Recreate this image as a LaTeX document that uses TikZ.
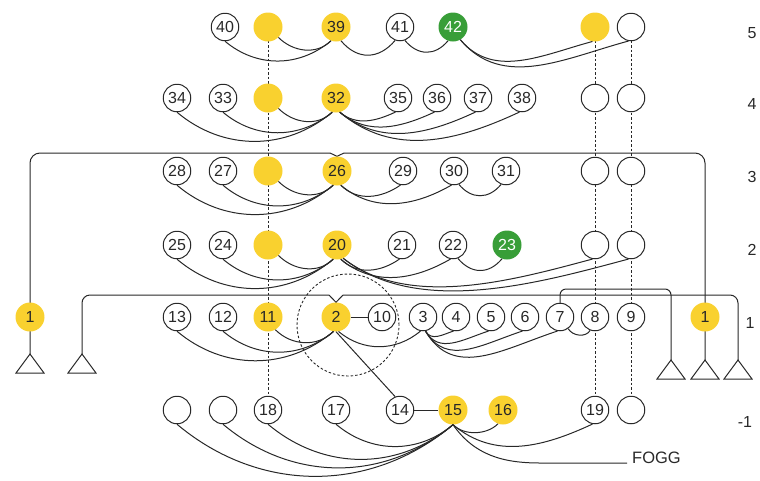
\documentclass[tikz,border=0pt]{standalone}
\usepackage{fontspec}
\setmainfont{Liberation Sans}
\usetikzlibrary{backgrounds}
\definecolor{ylw}{RGB}{249,209,47}
\definecolor{grn}{RGB}{56,158,56}
\definecolor{ink}{RGB}{40,40,40}
\begin{document}
\begin{tikzpicture}[x=1pt,y=1pt,
  every node/.style={font=\fontsize{16}{18}\selectfont, text=ink},
  wn/.style={circle, draw=ink, line width=1pt, fill=white, minimum size=27.5pt, inner sep=0pt},
  yn/.style={circle, fill=ylw, minimum size=29pt, inner sep=0pt},
  gn/.style={circle, fill=grn, minimum size=29pt, inner sep=0pt, text=white},
  con/.style={draw=ink, line width=1pt},
  dsh/.style={draw=ink, line width=0.9pt, dash pattern=on 2.5pt off 2pt},
]
\useasboundingbox (0,0) rectangle (760,-480);
% Row 5
\node[wn] (n40) at (225,-27) {40};
\node[yn] (y5) at (268,-27) {};
\node[yn] (n39) at (336,-27) {39};
\node[wn] (n41) at (400,-27) {41};
\node[gn] (n42) at (453,-27) {42};
\node[yn] (y5r) at (595,-27) {};
\node[wn] (e5) at (631,-27) {};
% Row 4
\node[wn] (n34) at (177,-98) {34};
\node[wn] (n33) at (223,-98) {33};
\node[yn] (y4) at (268,-98) {};
\node[yn] (n32) at (336,-98) {32};
\node[wn] (n35) at (398,-98) {35};
\node[wn] (n36) at (437,-98) {36};
\node[wn] (n37) at (478,-98) {37};
\node[wn] (n38) at (522,-98) {38};
\node[wn] (e4a) at (595,-98) {};
\node[wn] (e4b) at (631,-98) {};
% Row 3
\node[wn] (n28) at (177,-171) {28};
\node[wn] (n27) at (223,-171) {27};
\node[yn] (y3) at (268,-171) {};
\node[yn] (n26) at (337,-171) {26};
\node[wn] (n29) at (403,-171) {29};
\node[wn] (n30) at (454,-171) {30};
\node[wn] (n31) at (506,-171) {31};
\node[wn] (e3a) at (595,-171) {};
\node[wn] (e3b) at (631,-171) {};
% Row 2
\node[wn] (n25) at (177,-245) {25};
\node[wn] (n24) at (223,-245) {24};
\node[yn] (y2) at (268,-245) {};
\node[yn] (n20) at (337,-245) {20};
\node[wn] (n21) at (402,-245) {21};
\node[wn] (n22) at (453,-245) {22};
\node[gn] (n23) at (507,-245) {23};
\node[wn] (e2a) at (595,-245) {};
\node[wn] (e2b) at (631,-245) {};
% Row 1
\node[yn] (L1) at (30,-317) {1};
\node[wn] (n13) at (177,-317) {13};
\node[wn] (n12) at (223,-317) {12};
\node[yn] (n11) at (268,-317) {11};
\node[yn] (n2) at (336,-317) {2};
\node[wn] (n10) at (382,-317) {10};
\node[wn] (n3) at (423,-317) {3};
\node[wn] (n4) at (456,-317) {4};
\node[wn] (n5) at (491,-317) {5};
\node[wn] (n6) at (525,-317) {6};
\node[wn] (n7) at (560,-317) {7};
\node[wn] (n8) at (595,-317) {8};
\node[wn] (n9) at (631,-317) {9};
\node[yn] (R1) at (705,-317) {1};
% Row -1
\node[wn] (em1) at (177,-410) {};
\node[wn] (em2) at (223,-410) {};
\node[wn] (n18) at (268,-410) {18};
\node[wn] (n17) at (336,-410) {17};
\node[wn] (n14) at (400,-410) {14};
\node[yn] (n15) at (453,-410) {15};
\node[yn] (n16) at (503,-410) {16};
\node[wn] (n19) at (595,-410) {19};
\node[wn] (em3) at (631,-410) {};
\node[anchor=base west, inner xsep=5pt, inner ysep=0pt, font=\fontsize{16.5}{18}\selectfont] (fogg) at (627,-463) {FOGG};
% row labels
\node (l5) at (752,-33) {5};
\node (l4) at (752,-104) {4};
\node (l3) at (752,-177) {3};
\node (l2) at (752,-250) {2};
\node (l1) at (750,-323) {1};
\node (lm) at (745,-422) {-1};
% coordinates
\coordinate (tA) at (30,-354);
\coordinate (tB) at (82,-354);
\coordinate (tC) at (671,-360);
\coordinate (tD) at (705,-360);
\coordinate (tE) at (738,-360);
\coordinate (a1) at (330,-153);
\coordinate (a2) at (344,-153);
\coordinate (b1) at (329,-295);
\coordinate (b2) at (343,-295);
\coordinate (c1) at (620,-289);
\coordinate (fg1) at (540,-463);
% triangles
\foreach \t in {tA,tB,tC,tD,tE}
  \draw[con, line join=miter] (\t) -- ++(-14,-19) -- ++(28,0) -- cycle;
\begin{scope}[on background layer]
  \draw[dsh] (y5.center) -- (n18.center);
  \draw[dsh] (y5r.center) -- (n19.center);
  \draw[dsh] (e5.center) -- (em3.center);
  \draw[dsh] (348,-325) circle[radius=51];
  \draw[con, rounded corners=10pt] (tA) |- (a1);
  \draw[con] (a1) -- (n26.north) -- (a2);
  \draw[con, rounded corners=10pt] (a2) -| (tD);
  \draw[con, rounded corners=8pt] (tB) |- (b1);
  \draw[con] (b1) -- (n2.north) -- (b2);
  \draw[con, rounded corners=8pt] (b2) -| (tE);
  \draw[con, rounded corners=6pt] (n7.center) |- (c1) -| (tC);
\end{scope}
% Row 5 links
\draw[con] (n40.south) to[out=-40,in=-140] (n39.-110);
\draw[con] (y5.-45) to[out=-45,in=-135] (n39.-110);
\draw[con] (n39.-70) to[out=-50,in=-130,looseness=1.2] (n41.-110);
\draw[con] (n41.-70) to[out=-50,in=-130,looseness=1.2] (n42.-110);
\draw[con] (n42.-60) to[out=-50,in=-165] (y5r.-100);
\draw[con] (n42.-60) to[out=-50,in=-165] (e5.-100);
% Row 4 links
\draw[con] (n34.south) to[out=-40,in=-140] (n32.-105);
\draw[con] (n33.south) to[out=-40,in=-140] (n32.-105);
\draw[con] (y4.-45) to[out=-45,in=-135] (n32.-105);
\foreach \t in {n35,n36,n37,n38}
  \draw[con] (n32.-75) to[out=-40,in=-155] (\t.-100);
% Row 3 links
\draw[con] (n28.south) to[out=-40,in=-140] (n26.-105);
\draw[con] (n27.south) to[out=-40,in=-140] (n26.-105);
\draw[con] (y3.-45) to[out=-45,in=-135] (n26.-105);
\draw[con] (n26.-75) to[out=-45,in=-145] (n29.-100);
\draw[con] (n26.-75) to[out=-40,in=-150] (n30.-100);
\draw[con] (n30.-70) to[out=-50,in=-130,looseness=1.2] (n31.-110);
% Row 2 links
\draw[con] (n25.south) to[out=-40,in=-140] (n20.-105);
\draw[con] (n24.south) to[out=-40,in=-140] (n20.-105);
\draw[con] (y2.-45) to[out=-45,in=-135] (n20.-105);
\draw[con] (n20.-75) to[out=-45,in=-145] (n21.-100);
\draw[con] (n20.-75) to[out=-40,in=-150] (n22.-100);
\draw[con] (n22.-70) to[out=-50,in=-130,looseness=1.2] (n23.-110);
\draw[con] (n20.-65) to[out=-38,in=-165,looseness=0.85] (e2a.-100);
\draw[con] (n20.-65) to[out=-38,in=-165,looseness=0.85] (e2b.-100);
% Row 1 links
\draw[con] (n13.south) to[out=-40,in=-140] (n2.-100);
\draw[con] (n12.south) to[out=-40,in=-140] (n2.-100);
\draw[con] (n11.-60) to[out=-45,in=-135] (n2.-100);
\draw[con] (n2.-80) to[out=-40,in=-140] (n3.-100);
\draw[con] (n2) -- (n10);
\draw[con] (n2.south) -- (n14.110);
\foreach \t in {n4,n5,n6,n7}
  \draw[con] (n3.-80) to[out=-60,in=-162,looseness=1.1] (\t.-100);
\draw[con] (n7.-55) to[out=-60,in=-120] (n8.-110);
% Row -1 links
\foreach \s in {em1,em2,n18,n17}
  \draw[con] (\s.south) to[out=-40,in=-140] (n15.south);
\draw[con] (n14) -- (n15);
\draw[con] (n15.south) to[out=-45,in=-135,looseness=0.9] (n16.-110);
\draw[con] (n15.south) to[out=-40,in=-155] (n19.-100);
\draw[con] (n15.south) to[out=-55,in=180] (fg1) -- (fogg.base west);
\end{tikzpicture}
\end{document}
